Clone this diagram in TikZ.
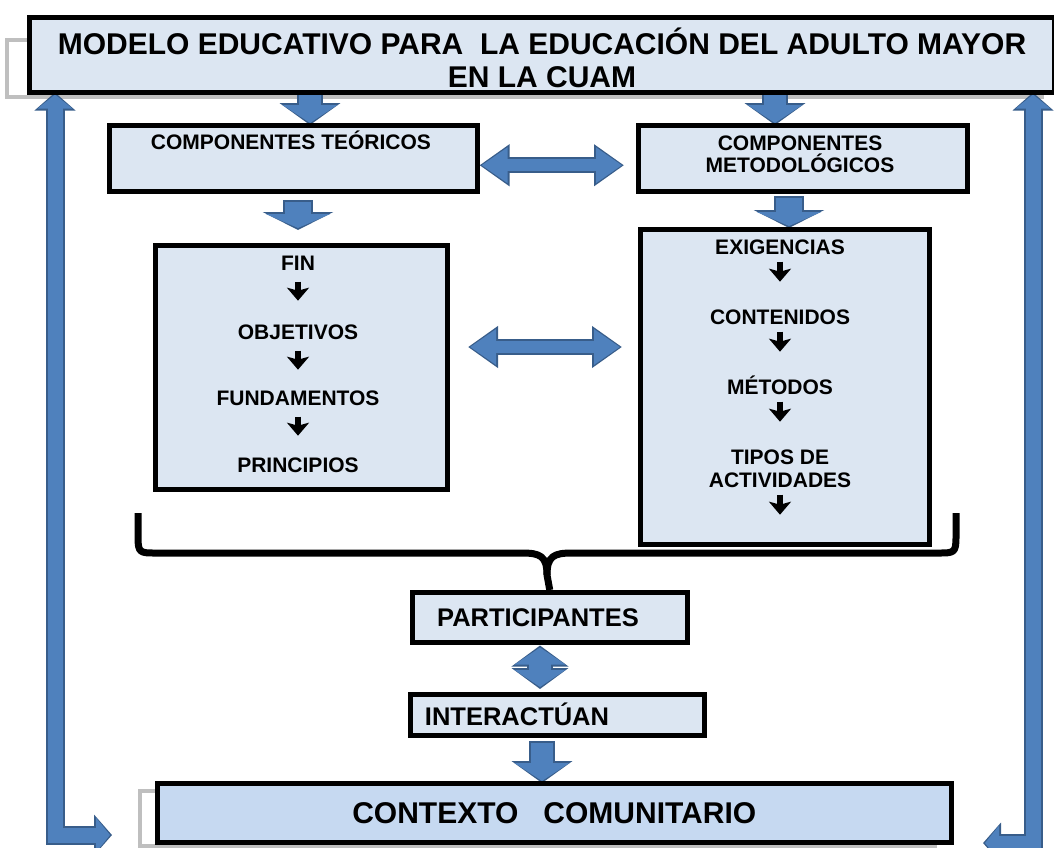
\documentclass[tikz,border=0pt]{standalone}
\usepackage{fontspec}
\setmainfont{Liberation Sans}
\usetikzlibrary{arrows.meta,backgrounds}

\definecolor{boxfill}{HTML}{DCE6F2}
\definecolor{ctxfill}{HTML}{C6D9F1}
\definecolor{arrowfill}{HTML}{4F81BD}
\definecolor{arrowline}{HTML}{385D8A}

\begin{document}
\begin{tikzpicture}[
        x=1pt, y=-1pt,
        box/.style={
            draw=black,
            line width=4.5pt,
            fill=boxfill,
            anchor=north west,
            inner sep=0pt
        },
        shadowbox/.style={
            draw=black!25,
            line width=4pt
        },
        item/.style={
            font=\fontsize{21}{23}\selectfont\bfseries,
            align=center,
            inner sep=0pt,
            text height=15pt,
            text depth=0pt
        },
        pair/.style={
            font=\fontsize{21}{22}\selectfont\bfseries,
            align=center,
            inner sep=0pt
        },
        label/.style={
            font=\fontsize{25.5}{28}\selectfont\bfseries,
            inner sep=0pt
        },
        minarrow/.style={
            draw=black,
            line width=5.5pt,
            -{Stealth[width=22pt,length=13pt,inset=3pt]}
        },
        toparrow/.style={
            preaction={draw=arrowline, line width=26pt, shorten <=-1.5pt, shorten >=-2pt,
                -{Triangle[width=60pt,length=22pt]}},
            draw=arrowfill,
            line width=22pt,
            -{Triangle[width=54pt,length=18pt]}
        },
        midarrow/.style={
            preaction={draw=arrowline, line width=30pt, shorten <=-1.5pt, shorten >=-2pt,
                -{Triangle[width=70pt,length=18pt]}},
            draw=arrowfill,
            line width=26pt,
            -{Triangle[width=64pt,length=14pt]}
        },
        linkarrow/.style={
            preaction={draw=arrowline, line width=16pt, shorten <=-2pt, shorten >=-2pt,
                {Triangle[width=40pt,length=30pt]}-{Triangle[width=40pt,length=30pt]}},
            draw=arrowfill,
            line width=12pt,
            {Triangle[width=34pt,length=26pt]}-{Triangle[width=34pt,length=26pt]}
        },
        swaparrow/.style={
            preaction={draw=arrowline, line width=26pt, shorten <=-2pt, shorten >=-2pt,
                {Triangle[width=56pt,length=21pt]}-{Triangle[width=56pt,length=21pt]}},
            draw=arrowfill,
            line width=22pt,
            {Triangle[width=50pt,length=17pt]}-{Triangle[width=50pt,length=17pt]}
        },
        returnarrow/.style={
            preaction={draw=arrowline, line width=19pt, shorten <=-2pt, shorten >=-2pt,
                {Triangle[width=40pt,length=18pt]}-{Triangle[width=40pt,length=18pt]}},
            draw=arrowfill,
            line width=15pt,
            line join=miter,
            {Triangle[width=34pt,length=14pt]}-{Triangle[width=34pt,length=14pt]}
        },
        bracket/.style={
            draw=black,
            line width=7pt,
            line join=round
        }
    ]
        \useasboundingbox (0,0) rectangle (1054,847);

        % Title
        \node[box, minimum width=1025pt, minimum height=75pt] (title) at (27,15) {};
        \node[font=\fontsize{30}{33}\selectfont\bfseries, align=center, inner sep=0pt] (titletext) at (542,58)
            {MODELO EDUCATIVO PARA\ \ LA EDUCACIÓN DEL ADULTO MAYOR\\EN LA CUAM};

        % Components
        \node[box, minimum width=368pt, minimum height=66pt] (ct) at (107,123) {};
        \node[item] (cttext) at (291,142) {COMPONENTES TEÓRICOS};
        \node[box, minimum width=329pt, minimum height=66pt] (cm) at (636,123) {};
        \node[pair] (cmtext) at (800,154) {COMPONENTES\\METODOLÓGICOS};

        % Theoretical list
        \node[box, minimum width=292pt, minimum height=244pt] (teo) at (153,243) {};
        \node[item] (fin) at (298,263) {FIN};
        \node[item] (obj) at (298,332) {OBJETIVOS};
        \node[item] (fund) at (298,398) {FUNDAMENTOS};
        \node[item] (prin) at (298,465) {PRINCIPIOS};

        % Methodological list
        \node[box, minimum width=289pt, minimum height=315pt] (met) at (638,227) {};
        \node[item] (exi) at (780,247) {EXIGENCIAS};
        \node[item] (cont) at (780,317) {CONTENIDOS};
        \node[item] (meto) at (780,387) {MÉTODOS};
        \node[item] (tipos) at (780,457) {TIPOS DE};
        \node[item] (activ) at (780,480) {ACTIVIDADES};

        % Participants and context
        \node[box, minimum width=275pt, minimum height=50pt] (part) at (410,590) {};
        \node[label] (parttext) at (538,618) {PARTICIPANTES};
        \node[box, minimum width=294pt, minimum height=41pt] (inter) at (408,692) {};
        \node[label] (intertext) at (517,714) {INTERACTÚAN};
        \node[box, fill=ctxfill, minimum width=794pt, minimum height=59pt,
              font=\fontsize{30}{32}\selectfont\bfseries] (ctx) at (155,781) {CONTEXTO\ \ \ COMUNITARIO};

        % Inner arrows
        \foreach \a in {fin,obj,fund} {
            \draw[minarrow] ([yshift=-11pt]\a.south) -- ([yshift=-30pt]\a.south);
        }
        \foreach \a in {exi,cont,meto,activ} {
            \draw[minarrow] ([yshift=-7pt]\a.south) -- ([yshift=-27pt]\a.south);
        }

        % Bracket
        \draw[bracket] (138,513) -- (138,537) .. controls (138,553) and (140,553) .. (156,553)
            -- (522,553) .. controls (540,553) and (547,556) .. (547,575) -- (part.north);
        \draw[bracket] (956,513) -- (956,537) .. controls (956,553) and (954,553) .. (938,553)
            -- (572,553) .. controls (554,553) and (547,556) .. (547,575);

        \begin{pgfonlayer}{background}
            % Shadows
            \draw[shadowbox] (7,40) rectangle (1042,97);
            \draw[shadowbox] (140,791) rectangle (935,846);

            % Block arrows
            \coordinate (tl) at (310,0);
            \coordinate (tr) at (775,0);
            \coordinate (lx) at (55,0);
            \coordinate (rx) at (1033,0);
            \coordinate (lbot) at (110,835);
            \coordinate (rbot) at (985,843);
            \draw[toparrow] (title.south -| tl) -- (ct.north -| tl);
            \draw[toparrow] (title.south -| tr) -- (cm.north -| tr);
            \draw[linkarrow] ([shift={(2,7)}]ct.east) -- ([shift={(-14,7)}]cm.west);
            \draw[midarrow] ([yshift=-8pt]ct.south -| fin) -- ([yshift=15pt]teo.north -| fin);
            \draw[midarrow] ([yshift=-4pt]cm.south -| 789,0) -- ([yshift=1pt]met.north -| 789,0);
            \draw[linkarrow] (470,347) -- (620,347);
            \draw[swaparrow] ([yshift=-3pt]part.south -| 540,0) -- ([yshift=5pt]inter.north -| 540,0);
            \draw[toparrow] ([yshift=-5pt]inter.south -| 542,0) -- (ctx.north -| 542,0);
            \draw[returnarrow] (lbot) -| (title.south -| lx);
            \draw[returnarrow] (rbot) -| (title.south -| rx);
        \end{pgfonlayer}
\end{tikzpicture}
\end{document}
